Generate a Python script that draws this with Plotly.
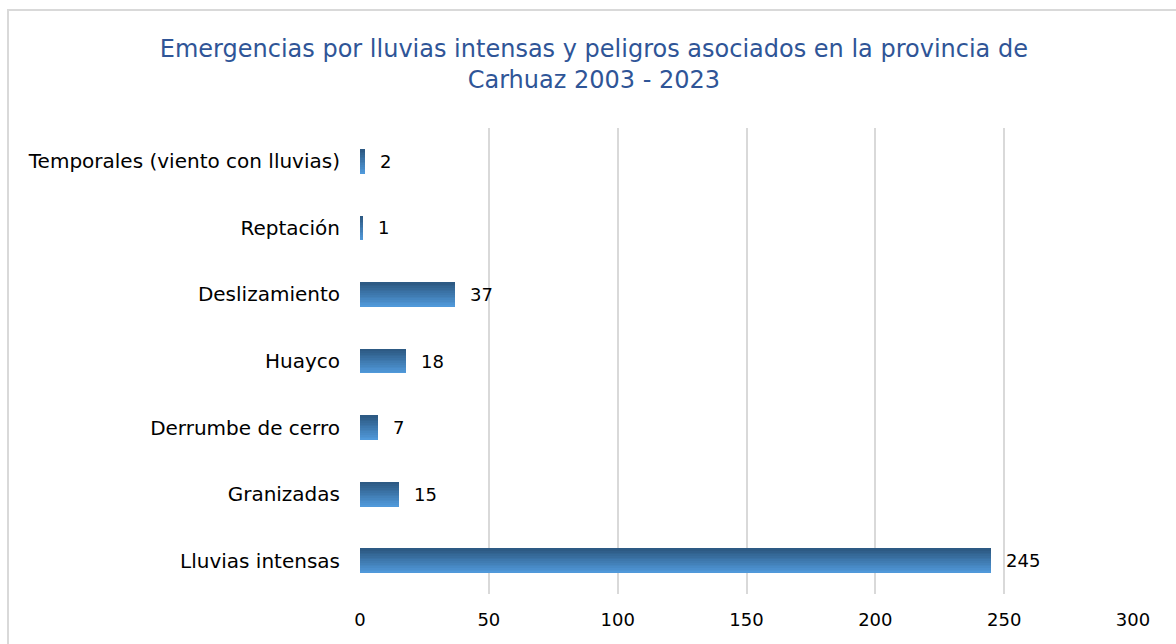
import plotly.graph_objects as go

# Emergencias por tipo de peligro (provincia de Carhuaz, 2003 - 2023)
categorias = [
    "Lluvias intensas",
    "Granizadas",
    "Derrumbe de cerro",
    "Huayco",
    "Deslizamiento",
    "Reptación",
    "Temporales (viento con lluvias)",
]
emergencias = [245, 15, 7, 18, 37, 1, 2]
ticks_x = [0, 50, 100, 150, 200, 250, 300]

W, H = 1176, 644
ML, MR, MT, MB = 360, 43, 128, 50
PW, PH = W - ML - MR, H - MT - MB
FONT = "DejaVu Sans, sans-serif"

fig = go.Figure()

# bar drawn as stacked thin slices to give a vertical gradient (light bottom, dark top)
bar_w = 0.36
n_slices = 14
c_bottom = (80, 153, 218)
c_top = (45, 90, 132)
for k in range(n_slices):
    t = k / (n_slices - 1)
    r = round(c_bottom[0] + (c_top[0] - c_bottom[0]) * t)
    g = round(c_bottom[1] + (c_top[1] - c_bottom[1]) * t)
    b = round(c_bottom[2] + (c_top[2] - c_bottom[2]) * t)
    sw = bar_w / n_slices
    fig.add_trace(go.Bar(
        x=emergencias,
        y=categorias,
        orientation="h",
        width=sw * 1.15,
        offset=-bar_w / 2 + k * sw,
        marker=dict(color=f"rgb({r},{g},{b})", line=dict(width=0)),
        hoverinfo="skip",
        showlegend=False,
    ))

# value labels just right of each bar end
annotations = [
    dict(
        x=v, y=c, xref="x", yref="y",
        text=str(v), showarrow=False,
        xanchor="left", yanchor="middle", xshift=13,
        font=dict(family=FONT, size=18, color="#000000"),
    )
    for c, v in zip(categorias, emergencias)
]

fig.update_layout(
    width=W,
    height=H,
    barmode="overlay",
    bargap=0,
    paper_bgcolor="white",
    plot_bgcolor="white",
    margin=dict(l=ML, r=MR, t=MT, b=MB),
    title=dict(
        text="Emergencias por lluvias intensas y peligros asociados en la provincia de<br>Carhuaz 2003 - 2023",
        x=0.505,
        xanchor="center",
        y=1 - 57 / H,
        yanchor="middle",
        font=dict(family=FONT, size=24, color="#2f5597"),
    ),
    xaxis=dict(
        range=[0, 300],
        tickvals=ticks_x,
        showgrid=True,
        gridcolor="#d9d9d9",
        gridwidth=2,
        zeroline=False,
        showline=False,
        tickfont=dict(family=FONT, size=18, color="#000000"),
        ticklabelstandoff=13,
        fixedrange=True,
    ),
    yaxis=dict(
        categoryorder="array",
        categoryarray=categorias,
        showgrid=False,
        zeroline=False,
        showline=False,
        tickfont=dict(family=FONT, size=20, color="#000000"),
        ticklabelstandoff=19,
        range=[-0.5, 6.5],
        fixedrange=True,
    ),
    annotations=annotations,
    shapes=[
        dict(
            type="rect",
            xref="paper", yref="paper",
            x0=(8 - ML) / PW,
            x1=(W + 20 - ML) / PW,
            y0=-(MB + 20) / PH,
            y1=1 + (MT - 10) / PH,
            line=dict(color="#d9d9d9", width=2),
            fillcolor="rgba(0,0,0,0)",
            layer="below",
        )
    ],
)

fig.write_html("out.html")
